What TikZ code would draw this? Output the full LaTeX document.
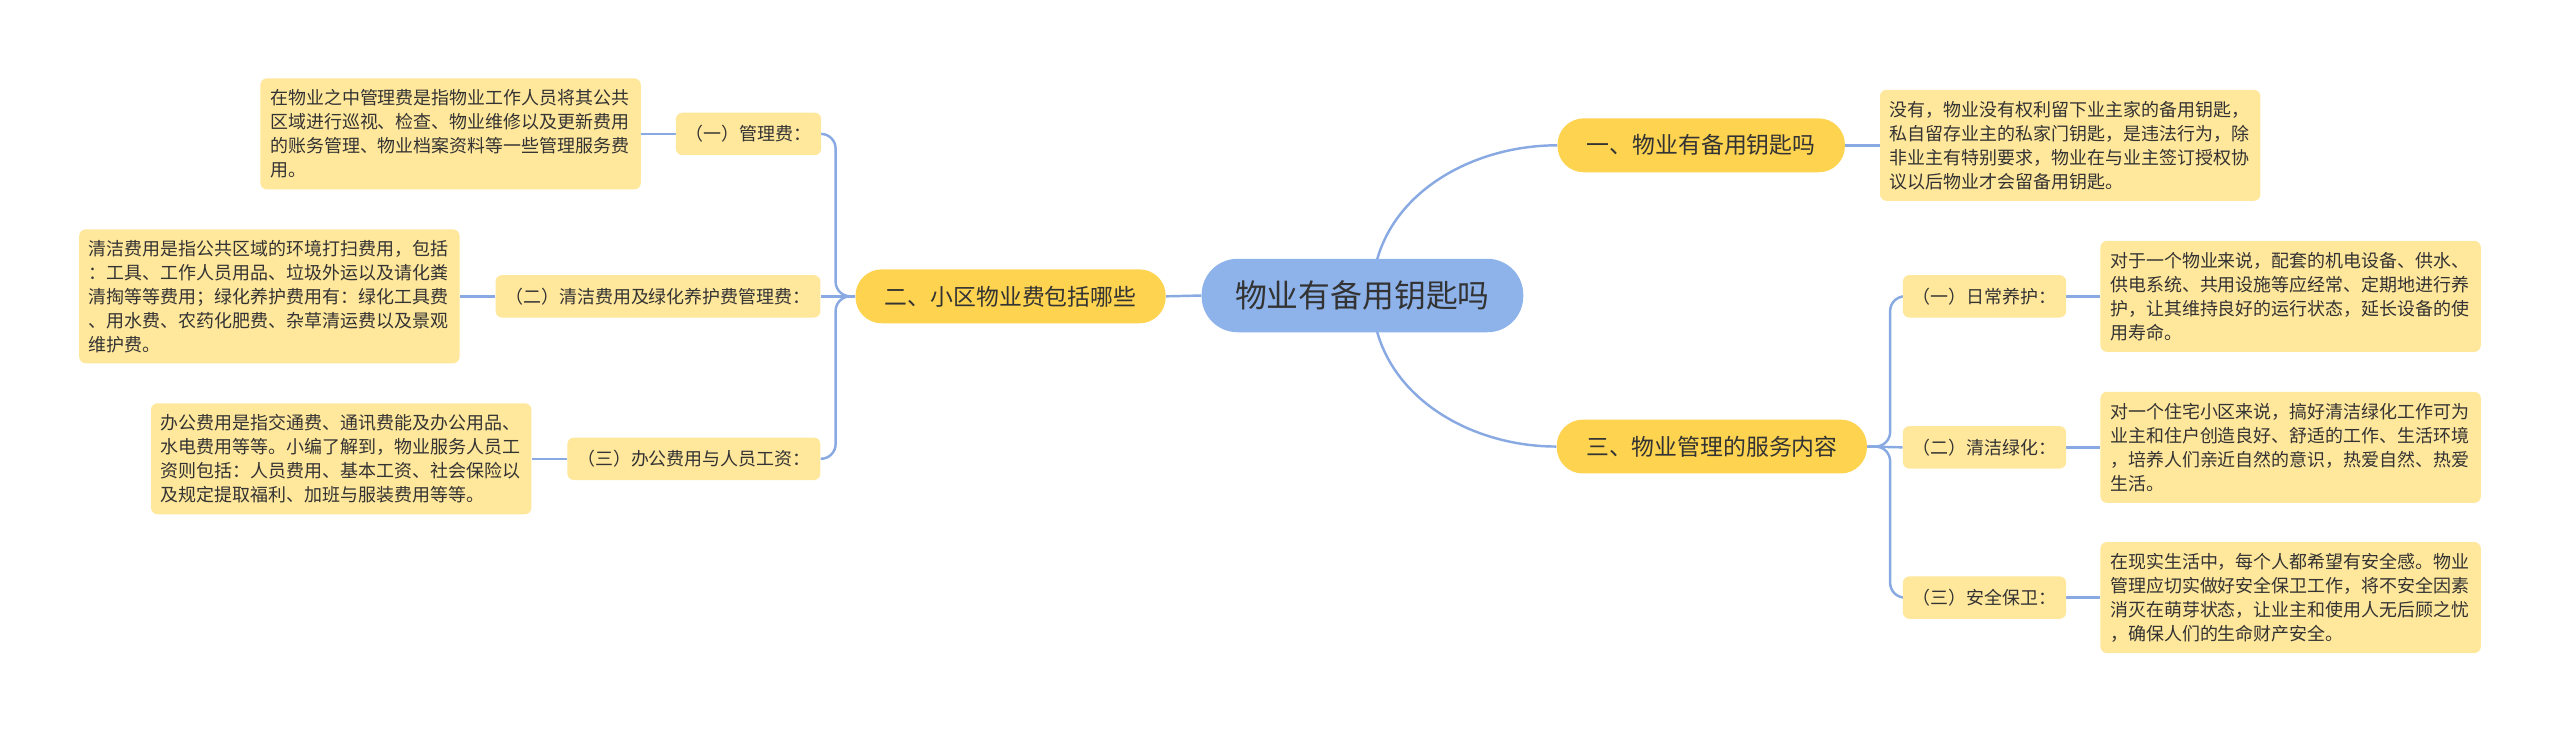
\documentclass[tikz,border=0pt]{standalone}
\usepackage{fontspec}
\setmainfont{Noto Sans CJK SC}
\usepackage{xcolor}
\usepackage{tikz}
\usetikzlibrary{backgrounds}

\definecolor{rootblue}{RGB}{142,179,235}
\definecolor{branchyellow}{RGB}{253,211,80}
\definecolor{leafyellow}{RGB}{255,231,156}
\definecolor{linkblue}{RGB}{136,169,226}
\definecolor{inkgray}{RGB}{51,51,51}

\tikzset{
  rootbox/.style={fill=rootblue, rounded corners=22pt, minimum width=197pt, minimum height=45pt,
    inner sep=0pt, font=\fontsize{19.5}{22}\selectfont},
  branchbox/.style={fill=branchyellow, rounded corners=16pt, minimum height=33pt,
    inner xsep=18pt, inner ysep=0pt, font=\fontsize{14}{16}\selectfont},
  labelbox/.style={fill=leafyellow, rounded corners=4pt, minimum height=26pt,
    inner xsep=6pt, inner ysep=0pt, font=\fontsize{11}{13}\selectfont},
  leafbox/.style={fill=leafyellow, rounded corners=4pt, text width=221pt, minimum height=68pt,
    inner xsep=6pt, inner ysep=0pt, align=left, font=\fontsize{11}{14.7}\selectfont},
  link/.style={draw=linkblue, line width=1.5pt}
}

\begin{document}
\begin{tikzpicture}[x=1pt, y=-1pt, every node/.style={text=inkgray}]
  \useasboundingbox (0,0) rectangle (1568,448);

  % centre and main branches
  \node[rootbox] (root) at (834.5,181) {物业有备用钥匙吗};
  \node[branchbox] (b1) at (1042,89) {一、物业有备用钥匙吗};
  \node[branchbox] (b2) at (619,181.5) {二、小区物业费包括哪些};
  \node[branchbox] (b3) at (1048.5,273.5) {三、物业管理的服务内容};

  % branch one
  \node[leafbox] (k1) at (1268,89) {没有，物业没有权利留下业主家的备用钥匙，\\私自留存业主的私家门钥匙，是违法行为，除\\非业主有特别要求，物业在与业主签订授权协\\议以后物业才会留备用钥匙。};

  % branch two
  \node[labelbox] (l1) at (458.5,82) {（一）管理费：};
  \node[labelbox] (l2) at (403,181.5) {（二）清洁费用及绿化养护费管理费：};
  \node[labelbox] (l3) at (425,281) {（三）办公费用与人员工资：};
  \node[leafbox] (a1) at (276,82) {在物业之中管理费是指物业工作人员将其公共\\区域进行巡视、检查、物业维修以及更新费用\\的账务管理、物业档案资料等一些管理服务费\\用。};
  \node[leafbox, minimum height=82pt] (a2) at (165,181.5) {清洁费用是指公共区域的环境打扫费用，包括\\：工具、工作人员用品、垃圾外运以及请化粪\\清掏等等费用；绿化养护费用有：绿化工具费\\、用水费、农药化肥费、杂草清运费以及景观\\维护费。};
  \node[leafbox] (a3) at (209,281) {办公费用是指交通费、通讯费能及办公用品、\\水电费用等等。小编了解到，物业服务人员工\\资则包括：人员费用、基本工资、社会保险以\\及规定提取福利、加班与服装费用等等。};

  % branch three
  \node[labelbox] (m1) at (1215.5,181.5) {（一）日常养护：};
  \node[labelbox] (m2) at (1215.5,274) {（二）清洁绿化：};
  \node[labelbox] (m3) at (1215.5,366) {（三）安全保卫：};
  \node[leafbox] (r1) at (1403,181.5) {对于一个物业来说，配套的机电设备、供水、\\供电系统、共用设施等应经常、定期地进行养\\护，让其维持良好的运行状态，延长设备的使\\用寿命。};
  \node[leafbox] (r2) at (1403,274) {对一个住宅小区来说，搞好清洁绿化工作可为\\业主和住户创造良好、舒适的工作、生活环境\\，培养人们亲近自然的意识，热爱自然、热爱\\生活。};
  \node[leafbox] (r3) at (1403,366) {在现实生活中，每个人都希望有安全感。物业\\管理应切实做好安全保卫工作，将不安全因素\\消灭在萌芽状态，让业主和使用人无后顾之忧\\，确保人们的生命财产安全。};

  % connectors
  \begin{scope}[on background layer]
    \draw[link] (root.west) -- (b2.east);
    \draw[link] ([xshift=6pt]root.center) to[out=90,in=180] (b1.west);
    \draw[link] ([xshift=6pt]root.center) to[out=-90,in=180] (b3.west);
    \draw[link] (b1.east) -- (k1.west);

    \draw[link, rounded corners=9pt] (b2.west) -- ++(-12,0) |- (l1.east);
    \draw[link] (b2.west) -- (l2.east);
    \draw[link, rounded corners=9pt] (b2.west) -- ++(-12,0) |- (l3.east);
    \draw[link] (l1.west) -- (a1.east);
    \draw[link] (l2.west) -- (a2.east);
    \draw[link] (l3.west) -- (a3.east);

    \draw[link, rounded corners=9pt] (b3.east) -- ++(14,0) |- (m1.west);
    \draw[link] (b3.east) -- (m2.west);
    \draw[link, rounded corners=9pt] (b3.east) -- ++(14,0) |- (m3.west);
    \draw[link] (m1.east) -- (r1.west);
    \draw[link] (m2.east) -- (r2.west);
    \draw[link] (m3.east) -- (r3.west);
  \end{scope}
\end{tikzpicture}
\end{document}
